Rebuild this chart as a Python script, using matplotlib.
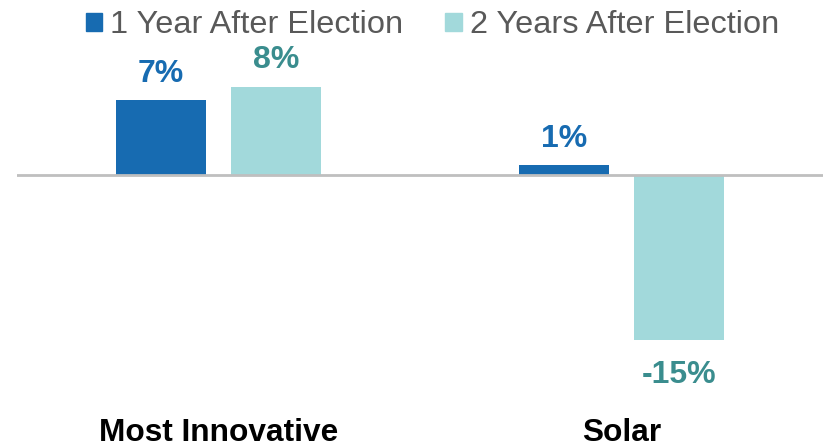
import matplotlib
matplotlib.use('Agg')
import matplotlib.pyplot as plt
from matplotlib.patches import Patch
import numpy as np

plt.rcParams['font.family'] = ['Liberation Sans', 'DejaVu Sans']

categories = ['Most Innovative', 'Solar']
series_names = ['1 Year After Election', '2 Years After Election']
year1 = [6.8, 0.9]
year2 = [8.0, -15.0]
year1_labels = ['7%', '1%']
year2_labels = ['8%', '-15%']

bar_colors = ['#176BB1', '#A2D9DB']
label_colors = ['#176BB1', '#3A8D8E']


def add_labels(ax, xs, vals, labels, color):
    for x, v, lab in zip(xs, vals, labels):
        off = 13 if v >= 0 else -31
        ax.annotate(lab, (x, v), xytext=(0, off), textcoords='offset points',
                    ha='center', va='baseline', fontsize=23, fontweight='bold',
                    color=color)


fig = plt.figure(figsize=(8.25, 4.47), dpi=100)
ax = fig.add_axes([17 / 825, 74.5 / 447, 806 / 825, 308 / 447])

x = np.arange(len(categories))
w = 0.223
off = 0.143
ax.bar(x - off, year1, width=w, color=bar_colors[0])
ax.bar(x + off, year2, width=w, color=bar_colors[1])
add_labels(ax, x - off, year1, year1_labels, label_colors[0])
add_labels(ax, x + off, year2, year2_labels, label_colors[1])

ax.axhline(0, color='#BFBFBF', lw=2, zorder=3)
ax.set_xlim(-0.5, 1.5)
ax.set_ylim(-18, 10)
ax.set_yticks([])
ax.set_xticks(x)
ax.set_xticklabels(categories, fontsize=22.8, fontweight='bold', color='black')
ax.tick_params(axis='x', length=0, pad=33)
for s in ax.spines.values():
    s.set_visible(False)

handles = [Patch(color=c) for c in bar_colors]
fig.legend(handles, series_names, loc='upper center', ncol=2,
           bbox_to_anchor=(0.524, 1.042), frameon=False, fontsize=23.4,
           labelcolor='#595959', handlelength=0.5, handleheight=0.5,
           handletextpad=0.25, columnspacing=1.3)

fig.savefig('out.png', dpi=100)
